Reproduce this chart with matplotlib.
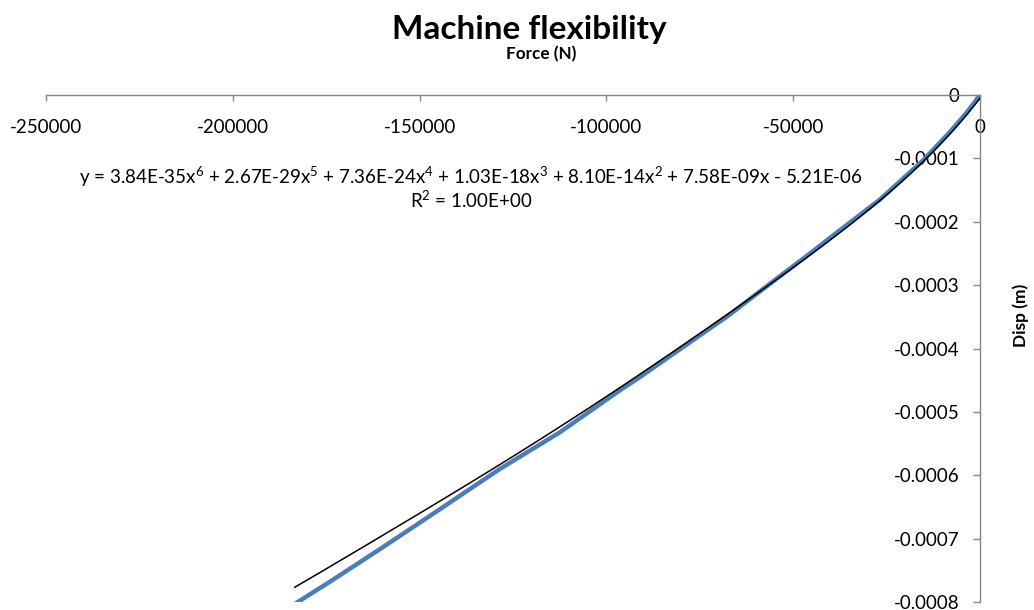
import numpy as np
import matplotlib
matplotlib.use("Agg")
import matplotlib.pyplot as plt
from matplotlib.ticker import FixedLocator, FuncFormatter

# Measured force / displacement of the machine frame
force_n = [0, -3600, -8000, -15200, -26800, -36100, -46400, -56700, -67800,
           -83200, -91000, -96400, -112400, -128500, -147200, -160600,
           -174000, -183400]
disp_m = [0, -0.000028, -0.000058, -0.000103, -0.000165, -0.000207, -0.000254,
          -0.0003, -0.00035, -0.000413, -0.000445, -0.000466, -0.000532,
          -0.00059, -0.000664, -0.0007165, -0.000768, -0.000803]

# 6th-order polynomial trendline, highest power first
trend_coeffs = [3.84e-35, 2.67e-29, 7.36e-24, 1.03e-18, 8.10e-14, 7.58e-09, -5.21e-06]
r_squared = 1.00

x_ticks = [-250000, -200000, -150000, -100000, -50000, 0]
y_ticks = [-0.0008, -0.0007, -0.0006, -0.0005, -0.0004, -0.0003, -0.0002, -0.0001, 0]

plt.rcParams['font.family'] = ['Lato', 'DejaVu Sans']
plt.rcParams['mathtext.fontset'] = 'custom'
plt.rcParams['mathtext.rm'] = 'Lato'
plt.rcParams['mathtext.it'] = 'Lato:italic'
plt.rcParams['mathtext.bf'] = 'Lato:bold'

W, H = 1034, 610
fig = plt.figure(figsize=(W / 100, H / 100), dpi=100)
ax = fig.add_axes([46 / W, 1 - 602 / H, (980 - 46) / W, (602 - 95) / H])

axis_grey = '#868686'

ax.plot(force_n, disp_m, color='#4A7EBB', lw=3.2, solid_capstyle='butt',
        solid_joinstyle='round', zorder=2)

xs = np.linspace(min(force_n), 0, 400)
ax.plot(xs, np.polyval(trend_coeffs, xs), color='black', lw=1.1, zorder=3)

ax.set_xlim(-250000, 0)
ax.set_ylim(-0.0008, 0)

# Axes cross at the origin: x axis runs along the top, y axis along the right
ax.spines['top'].set_visible(False)
ax.spines['right'].set_visible(False)
ax.spines['bottom'].set_position(('data', 0))
ax.spines['left'].set_position(('data', 0))
for s in ('bottom', 'left'):
    ax.spines[s].set_color(axis_grey)
    ax.spines[s].set_linewidth(1.0)

ax.xaxis.set_major_locator(FixedLocator(x_ticks))
ax.yaxis.set_major_locator(FixedLocator(y_ticks))
ax.xaxis.set_major_formatter(FuncFormatter(lambda v, p: f"{v:.0f}"))
ax.yaxis.set_major_formatter(FuncFormatter(lambda v, p: "0" if abs(v) < 1e-12 else f"{v:.4f}"))
ax.tick_params(axis='x', direction='out', length=4, width=1, color=axis_grey,
               labelsize=13.5, pad=13)
ax.tick_params(axis='y', direction='out', length=5, width=1, color=axis_grey,
               labelsize=13.5, pad=10)
for lbl in ax.get_xticklabels() + ax.get_yticklabels():
    lbl.set_clip_on(False)

fig.text(529 / W, 1 - 29 / H, "Machine flexibility", ha='center', va='center',
         fontsize=24, fontweight='bold')
fig.text(541 / W, 1 - 54 / H, "Force (N)", ha='center', va='center',
         fontsize=12.3, fontweight='bold')
fig.text(1021 / W, 1 - 315 / H, "Disp (m)", ha='center', va='center',
         fontsize=12.5, fontweight='bold', rotation=90)

powers = [6, 5, 4, 3, 2]
parts = [f"{c:.2E}x$^{{{p}}}$" for c, p in zip(trend_coeffs[:5], powers)]
eq = "y = " + " + ".join(parts) + f" + {trend_coeffs[5]:.2E}x - {abs(trend_coeffs[6]):.2E}"
fig.text(471 / W, 1 - 177 / H, eq, ha='center', va='center', fontsize=13.5)
fig.text(471 / W, 1 - 200 / H, f"R$^{{2}}$ = {r_squared:.2E}", ha='center', va='center',
         fontsize=13.5)

fig.savefig("out.png", dpi=100, facecolor='white')
